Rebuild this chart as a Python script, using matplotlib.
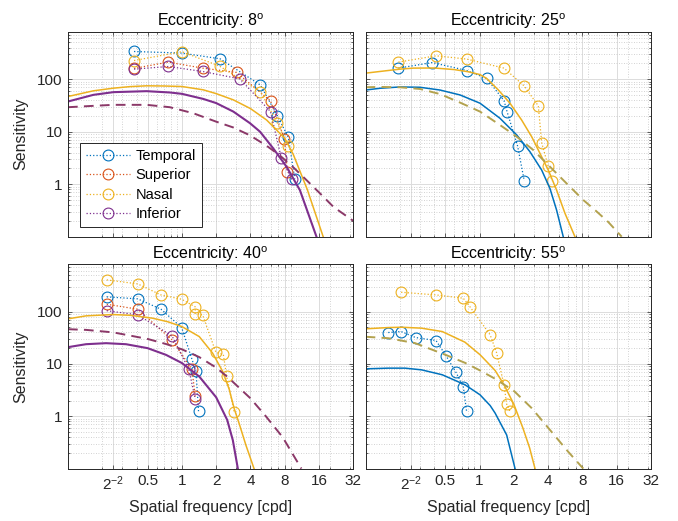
import matplotlib
matplotlib.use('Agg')
import matplotlib.pyplot as plt
from matplotlib.ticker import FixedLocator, FixedFormatter, NullFormatter

plt.rcParams['font.family'] = ['Liberation Sans', 'DejaVu Sans']
plt.rcParams['mathtext.fontset'] = 'custom'
plt.rcParams['mathtext.rm'] = 'Liberation Sans'
plt.rcParams['mathtext.it'] = 'Liberation Sans:italic'
plt.rcParams['mathtext.bf'] = 'Liberation Sans:bold'

# ---------------- data ----------------
eccentricities = [8, 25, 40, 55]
series_names = ['Temporal', 'Superior', 'Nasal', 'Inferior']

x_ticks = [0.25, 0.5, 1, 2, 4, 8, 16, 32]
x_ticklabels = [r'$2^{-2}$', '0.5', '1', '2', '4', '8', '16', '32']
y_ticks = [1, 10, 100]
y_ticklabels = ['1', '10', '100']

# Eccentricity 8 - measured points
tl_temporal_f = [0.38, 1.0, 2.16, 4.9, 6.9, 8.6, 9.8]
tl_temporal_s = [336, 313, 244, 77, 20, 7.8, 1.27]
tl_superior_f = [0.38, 0.76, 1.52, 3.02, 6.0, 7.95, 8.45]
tl_superior_s = [160, 211, 162, 134, 38.5, 7.3, 1.68]
tl_nasal_f = [0.38, 1.0, 2.14, 4.9, 6.9, 8.6]
tl_nasal_s = [226, 333, 177, 58, 14.5, 5.3]
tl_inferior_f = [0.38, 0.76, 1.52, 3.23, 6.0, 7.45, 9.2]
tl_inferior_s = [155, 174, 140, 101, 24.1, 3.2, 1.24]
# Eccentricity 8 - model curves
tl_fit_nasal_f = [0.1, 0.167, 0.25, 0.35, 0.49, 0.7, 1.0, 1.54, 2.0, 2.83, 4.0, 5.54, 8.0, 9.5, 11.6, 12.6, 14.2, 17.4]
tl_fit_nasal_s = [46.7, 59.9, 67.3, 72, 74.6, 74, 72.4, 62.6, 53, 40.3, 27.5, 16.7, 7.5, 3.7, 1.25, 0.8, 0.37, 0.1]
tl_fit_inf_f = [0.1, 0.167, 0.25, 0.49, 0.785, 1.0, 1.54, 2.0, 2.83, 3.96, 4.85, 6.34, 8.3, 10.87, 15.2]
tl_fit_inf_s = [37.5, 50.2, 56.5, 59, 55.7, 52.5, 42, 35, 24.1, 14.5, 10, 4.8, 2.15, 0.77, 0.1]
tl_fit_mean_f = [0.1, 0.167, 0.25, 0.49, 0.785, 1.26, 2.0, 2.83, 3.96, 5.54, 7.27, 9.5, 12.4, 16.3, 21.4, 32]
tl_fit_mean_s = [29.2, 31, 32.4, 32.4, 29.2, 22.4, 15.5, 12, 8.5, 5.4, 3.5, 2.1, 1.2, 0.67, 0.37, 0.2]

# Eccentricity 25
tr_temporal_f = [0.194, 0.385, 0.771, 1.155, 1.64, 1.75, 2.16, 2.47]
tr_temporal_s = [162, 207, 146, 103, 39, 23.5, 5.3, 1.16]
tr_nasal_f = [0.194, 0.415, 0.771, 1.64, 2.46, 3.28, 3.51, 4.0, 4.33]
tr_nasal_s = [211, 278, 241, 162, 74.5, 31, 6.2, 2.2, 1.15]
tr_fit_nasal_f = [0.1, 0.134, 0.2, 0.262, 0.4, 0.6, 0.8, 1.01, 1.155, 1.46, 1.85, 2.34, 2.87, 3.39, 4.01, 4.75, 5.62, 6.88]
tr_fit_nasal_s = [130, 140, 155, 162, 163, 152, 138, 122, 103, 62.5, 34.8, 16.7, 8.0, 3.87, 1.86, 0.77, 0.28, 0.1]
tr_fit_temp_f = [0.1, 0.134, 0.2, 0.3, 0.45, 0.674, 1.01, 1.51, 2.12, 2.77, 3.51, 4.15, 4.75, 5.43]
tr_fit_temp_s = [62, 67, 71, 70, 62, 50, 34.8, 18, 8.65, 4.15, 1.86, 0.83, 0.32, 0.1]
tr_fit_mean_f = [0.1, 0.134, 0.2, 0.3, 0.45, 0.674, 1.01, 1.51, 2.12, 2.96, 4.15, 5.82, 8.14, 10.7, 13.5, 17.7]
tr_fit_mean_s = [70, 71, 70, 65, 52, 35.8, 24.1, 13.4, 8.03, 4.48, 2.15, 1.03, 0.5, 0.30, 0.19, 0.1]

# Eccentricity 40
bl_temporal_f = [0.219, 0.409, 0.655, 0.995, 1.225, 1.33, 1.40]
bl_temporal_s = [191, 175, 111, 49.5, 12.3, 7.2, 1.25]
bl_superior_f = [0.219, 0.409, 0.818, 1.225, 1.31]
bl_superior_s = [138, 111, 28.8, 7.9, 2.39]
bl_nasal_f = [0.219, 0.409, 0.655, 0.995, 1.31, 1.31, 1.52, 1.99, 2.31, 2.47, 2.88]
bl_nasal_s = [403, 338, 208, 172, 123, 91.6, 86.5, 16.6, 15.2, 5.8, 1.2]
bl_inferior_f = [0.219, 0.409, 0.818, 1.15, 1.31]
bl_inferior_s = [104, 86.5, 34.4, 7.9, 2.13]
bl_fit_nasal_f = [0.1, 0.144, 0.247, 0.35, 0.553, 0.75, 1.0, 1.42, 1.86, 2.28, 2.6, 2.88, 3.2, 3.65, 4.3]
bl_fit_nasal_s = [72.6, 82.8, 87.7, 85, 74.7, 64, 51.7, 33.3, 16.1, 7.2, 3.3, 1.4, 0.7, 0.28, 0.1]
bl_fit_inf_f = [0.1, 0.144, 0.216, 0.323, 0.5, 0.725, 1.0, 1.42, 2.0, 2.5, 2.8, 3.1]
bl_fit_inf_s = [20.9, 23.8, 24.9, 23.8, 20, 14.9, 10.4, 5.75, 2.3, 0.85, 0.35, 0.1]
bl_fit_mean_f = [0.1, 0.144, 0.25, 0.5, 0.725, 1.0, 1.42, 2.0, 2.55, 4.0, 5.46, 7.66, 11.2]
bl_fit_mean_s = [46, 44.7, 40, 30, 24, 19, 13.5, 8.5, 5.5, 2.2, 1.0, 0.4, 0.1]

# Eccentricity 55
br_temporal_f = [0.158, 0.205, 0.275, 0.415, 0.508, 0.622, 0.72, 0.77]
br_temporal_s = [39.8, 41.5, 31.9, 28, 14.3, 6.86, 3.7, 1.24]
br_nasal_f = [0.205, 0.415, 0.72, 0.825, 1.24, 1.41, 1.64, 1.73, 1.85]
br_nasal_s = [234, 208, 180, 123, 35.9, 16.5, 3.99, 1.71, 1.24]
br_fit_nasal_f = [0.1, 0.158, 0.207, 0.31, 0.471, 0.745, 1.01, 1.37, 1.64, 2.0, 2.4, 2.75, 3.07]
br_fit_nasal_s = [46.8, 49.5, 50.2, 48.2, 41.5, 26, 15, 7.5, 4.0, 1.7, 0.6, 0.25, 0.1]
br_fit_temp_f = [0.1, 0.158, 0.222, 0.31, 0.471, 0.745, 1.01, 1.24, 1.37, 1.73, 2.05]
br_fit_temp_s = [8.05, 8.3, 8.3, 7.7, 6.2, 4.0, 2.57, 1.6, 1.15, 0.44, 0.1]
br_fit_mean_f = [0.1, 0.158, 0.271, 0.5, 0.745, 1.01, 1.37, 1.65, 2.02, 2.87, 4.01, 6.0, 8.14]
br_fit_mean_s = [33, 31, 25, 15, 10.5, 7.5, 5.2, 4.0, 3.0, 1.43, 0.6, 0.21, 0.1]

# ---------------- style ----------------
colors = {'Temporal': (0, 0.447, 0.741), 'Superior': (0.85, 0.325, 0.098),
          'Nasal': (0.929, 0.694, 0.125), 'Inferior': (0.494, 0.184, 0.556)}
dash_col_a = '#8B3868'
dash_col_b = '#B3A24E'
txt = '#262626'

W, H = 678, 521
fig = plt.figure(figsize=(W / 100, H / 100), dpi=100)


def frac(px_l, px_r, py_t, py_b):
    return [px_l / W, 1 - py_b / H, (px_r - px_l) / W, (py_b - py_t) / H]


ax_tl = fig.add_axes(frac(68, 353.3, 31.7, 236.7))
ax_tr = fig.add_axes(frac(365.6, 651, 31.7, 236.7))
ax_bl = fig.add_axes(frac(68, 353.3, 264.3, 468.6))
ax_br = fig.add_axes(frac(365.6, 651, 264.3, 468.6))

x_minor = [v * d for d in (0.1, 1, 10) for v in range(2, 10) if v * d < 32.5]
y_minor = [v * d for d in (0.1, 1, 10, 100) for v in range(2, 10) if v * d < 800]


def style(ax, show_x, show_y, ecc):
    ax.set_xscale('log')
    ax.set_yscale('log')
    ax.set_xlim(0.1, 32)
    ax.set_ylim(0.1, 800)
    ax.xaxis.set_major_locator(FixedLocator(x_ticks))
    ax.xaxis.set_minor_locator(FixedLocator(x_minor))
    ax.yaxis.set_major_locator(FixedLocator(y_ticks))
    ax.yaxis.set_minor_locator(FixedLocator(y_minor))
    ax.xaxis.set_minor_formatter(NullFormatter())
    ax.yaxis.set_minor_formatter(NullFormatter())
    if show_x:
        ax.xaxis.set_major_formatter(FixedFormatter(x_ticklabels))
        ax.set_xlabel('Spatial frequency [cpd]', fontsize=11.5, color=txt, labelpad=5)
    else:
        ax.xaxis.set_major_formatter(NullFormatter())
    if show_y:
        ax.yaxis.set_major_formatter(FixedFormatter(y_ticklabels))
        ax.set_ylabel('Sensitivity', fontsize=11.5, color=txt, labelpad=6)
    else:
        ax.yaxis.set_major_formatter(NullFormatter())
    ax.grid(True, which='major', color='#dcdcdc', lw=0.7, ls='-')
    ax.grid(True, which='minor', color='#c4c4c4', lw=0.6, ls=(0, (1, 2)))
    ax.set_axisbelow(True)
    ax.tick_params(which='both', direction='in', top=True, right=True,
                   colors=txt, labelsize=11, width=0.5)
    ax.tick_params(which='major', length=3, pad=4)
    ax.tick_params(which='minor', length=1.6)
    for s in ax.spines.values():
        s.set_color(txt)
        s.set_linewidth(0.7)
    ax.set_title(r'Eccentricity: %d$^{\mathrm{o}}$' % ecc, fontsize=11.5, color='black', pad=4)


def points(ax, f, s, name, label=None):
    return ax.plot(f, s, ls=':', lw=0.9, marker='o', ms=7.8, mfc='none', mew=0.8,
                   color=colors[name], label=label)[0]


# Eccentricity 8
style(ax_tl, False, True, eccentricities[0])
h1 = points(ax_tl, tl_temporal_f, tl_temporal_s, 'Temporal', 'Temporal')
h2 = points(ax_tl, tl_superior_f, tl_superior_s, 'Superior', 'Superior')
h3 = points(ax_tl, tl_nasal_f, tl_nasal_s, 'Nasal', 'Nasal')
h4 = points(ax_tl, tl_inferior_f, tl_inferior_s, 'Inferior', 'Inferior')
ax_tl.plot(tl_fit_nasal_f, tl_fit_nasal_s, color=colors['Nasal'], lw=1.1)
ax_tl.plot(tl_fit_inf_f, tl_fit_inf_s, color=colors['Inferior'], lw=1.5)
ax_tl.plot(tl_fit_mean_f, tl_fit_mean_s, color=dash_col_a, lw=1.4, ls=(0, (5, 3.2)))
leg = ax_tl.legend(handles=[h1, h2, h3, h4], loc='lower left', bbox_to_anchor=(0.042, 0.047),
                   fontsize=10.5, frameon=True, fancybox=False, framealpha=1,
                   edgecolor='#262626', handlelength=3.0, borderpad=0.4,
                   labelspacing=0.38, handletextpad=0.4, borderaxespad=0)
leg.get_frame().set_linewidth(0.7)

# Eccentricity 25
style(ax_tr, False, False, eccentricities[1])
points(ax_tr, tr_temporal_f, tr_temporal_s, 'Temporal')
points(ax_tr, tr_nasal_f, tr_nasal_s, 'Nasal')
ax_tr.plot(tr_fit_nasal_f, tr_fit_nasal_s, color=colors['Nasal'], lw=1.1)
ax_tr.plot(tr_fit_temp_f, tr_fit_temp_s, color=colors['Temporal'], lw=1.1)
ax_tr.plot(tr_fit_mean_f, tr_fit_mean_s, color=dash_col_b, lw=1.4, ls=(0, (5, 3.2)))

# Eccentricity 40
style(ax_bl, True, True, eccentricities[2])
points(ax_bl, bl_temporal_f, bl_temporal_s, 'Temporal')
points(ax_bl, bl_superior_f, bl_superior_s, 'Superior')
points(ax_bl, bl_nasal_f, bl_nasal_s, 'Nasal')
points(ax_bl, bl_inferior_f, bl_inferior_s, 'Inferior')
ax_bl.plot(bl_fit_nasal_f, bl_fit_nasal_s, color=colors['Nasal'], lw=1.1)
ax_bl.plot(bl_fit_inf_f, bl_fit_inf_s, color=colors['Inferior'], lw=1.5)
ax_bl.plot(bl_fit_mean_f, bl_fit_mean_s, color=dash_col_a, lw=1.4, ls=(0, (5, 3.2)))

# Eccentricity 55
style(ax_br, True, False, eccentricities[3])
points(ax_br, br_temporal_f, br_temporal_s, 'Temporal')
points(ax_br, br_nasal_f, br_nasal_s, 'Nasal')
ax_br.plot(br_fit_nasal_f, br_fit_nasal_s, color=colors['Nasal'], lw=1.1)
ax_br.plot(br_fit_temp_f, br_fit_temp_s, color=colors['Temporal'], lw=1.1)
ax_br.plot(br_fit_mean_f, br_fit_mean_s, color=dash_col_b, lw=1.4, ls=(0, (5, 3.2)))

fig.savefig('out.png', dpi=100, facecolor='white')
